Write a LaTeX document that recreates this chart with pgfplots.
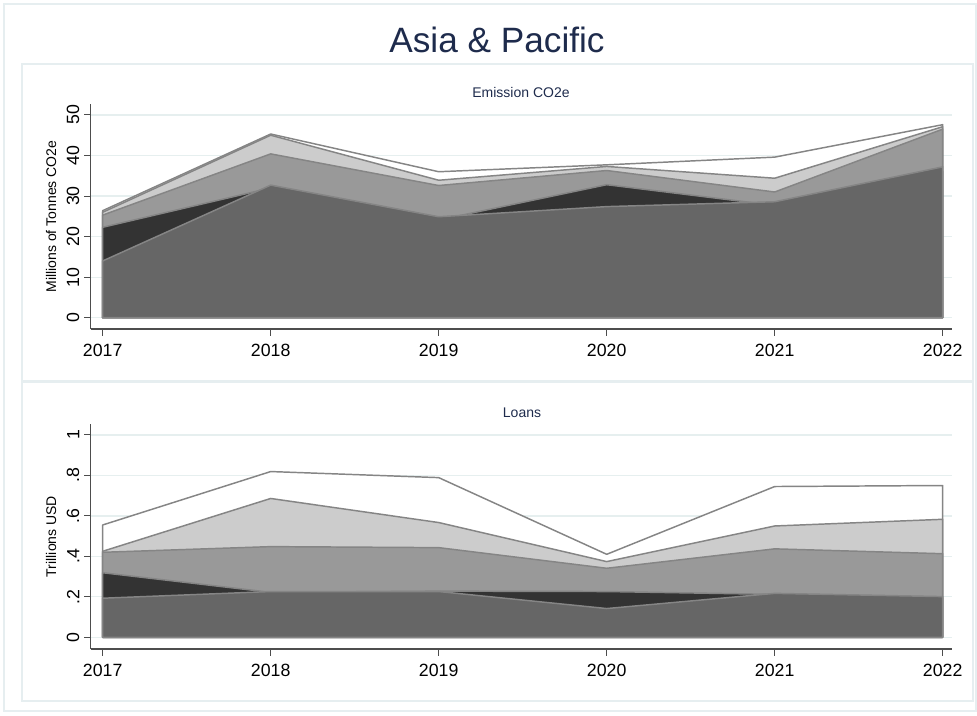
\documentclass[border=0pt]{standalone}
\usepackage{fontspec}
\setmainfont{Liberation Sans}
\usepackage{pgfplots}
\pgfplotsset{compat=1.18}
\definecolor{navy}{HTML}{1E2B4C}
\definecolor{framec}{HTML}{E6EEF0}
\definecolor{gridc}{HTML}{E6EFEF}
\definecolor{outl}{HTML}{858585}
\definecolor{axc}{HTML}{4D4D4D}
\definecolor{layA}{HTML}{FFFFFF}
\definecolor{layB}{HTML}{CCCCCC}
\definecolor{layC}{HTML}{999999}
\definecolor{layD}{HTML}{333333}
\definecolor{layE}{HTML}{666666}
\pgfplotsset{
  panel/.style={
    scale only axis, width=645.98pt, height=168.75pt,
    xmin=2016.9286, xmax=2022.0554,
    axis x line*=bottom, axis y line*=left,
    axis line style={axc, line width=1pt, -},
    tick style={axc, line width=0.8pt},
    tick align=outside, major tick length=5pt,
    xtick={2017,2018,2019,2020,2021,2022},
    xticklabels={2017,2018,2019,2020,2021,2022},
    ymajorgrids, grid style={gridc, line width=1pt},
    ticklabel style={font=\fontsize{13.3}{15}\selectfont},
    xticklabel style={yshift=-3pt},
    yticklabel style={rotate=90, anchor=south},
    ylabel style={at={(axis description cs:-0.0461,0.5)}, anchor=center, font=\fontsize{10.5}{12}\selectfont},
    every axis plot/.append style={draw=outl, line width=1.1pt, line join=round},
  }
}
\begin{document}
\begin{tikzpicture}
\path[use as bounding box] (0,0) rectangle (732.75pt,536.25pt);
\draw[framec, line width=1.2pt] (3pt,533.25pt) rectangle (732pt,3pt);
\draw[framec, line width=1.5pt] (16.5pt,488.25pt) rectangle (729.75pt,250.5pt);
\draw[framec, line width=1.5pt] (16.5pt,249.75pt) rectangle (729.75pt,10.5pt);
\node[navy, font=\fontsize{26.4}{30}\selectfont] at (372.75pt,506.25pt) {Asia \& Pacific};
\node[navy, font=\fontsize{10.5}{12}\selectfont] at (390.75pt,467.25pt) {Emission CO2e};
\node[navy, font=\fontsize{10.5}{12}\selectfont] at (391.5pt,226.5pt) {Loans};

\begin{axis}[panel, at={(68.03pt,289.5pt)}, anchor=south west,
  ymin=-2.78, ymax=52.7,
  ytick={0,10,20,30,40,50}, yticklabels={0,10,20,30,40,50},
  ylabel={Millions of Tonnes CO2e}]
\addplot[fill=layA] coordinates {(2017,0) (2017,26.4) (2018,45.3) (2019,36.0) (2020,37.7) (2021,39.6) (2022,47.6) (2022,0)} -- cycle;
\addplot[fill=layB] coordinates {(2017,0) (2017,26.0) (2018,45.0) (2019,33.9) (2020,37.3) (2021,34.4) (2022,47.1) (2022,0)} -- cycle;
\addplot[fill=layC] coordinates {(2017,0) (2017,25.3) (2018,40.4) (2019,32.6) (2020,36.3) (2021,31.0) (2022,46.5) (2022,0)} -- cycle;
\addplot[fill=layD] coordinates {(2017,0) (2017,22.3) (2018,32.0) (2019,24.1) (2020,32.8) (2021,27.7) (2022,36.0) (2022,0)} -- cycle;
\addplot[fill=layE] coordinates {(2017,0) (2017,14.0) (2018,32.7) (2019,24.9) (2020,27.4) (2021,28.6) (2022,37.2) (2022,0)} -- cycle;
\end{axis}

\begin{axis}[panel, at={(68.03pt,49.5pt)}, anchor=south west,
  ymin=-0.058, ymax=1.054,
  ytick={0,0.2,0.4,0.6,0.8,1}, yticklabels={0,.2,.4,.6,.8,1},
  ylabel={Trillions USD}]
\addplot[fill=layA] coordinates {(2017,0) (2017,0.555) (2018,0.819) (2019,0.789) (2020,0.410) (2021,0.745) (2022,0.750) (2022,0)} -- cycle;
\addplot[fill=layB] coordinates {(2017,0) (2017,0.425) (2018,0.686) (2019,0.567) (2020,0.374) (2021,0.550) (2022,0.583) (2022,0)} -- cycle;
\addplot[fill=layC] coordinates {(2017,0) (2017,0.420) (2018,0.448) (2019,0.443) (2020,0.341) (2021,0.437) (2022,0.413) (2022,0)} -- cycle;
\addplot[fill=layD] coordinates {(2017,0) (2017,0.319) (2018,0.222) (2019,0.228) (2020,0.226) (2021,0.212) (2022,0.195) (2022,0)} -- cycle;
\addplot[fill=layE] coordinates {(2017,0) (2017,0.193) (2018,0.226) (2019,0.226) (2020,0.142) (2021,0.217) (2022,0.201) (2022,0)} -- cycle;
\end{axis}
\end{tikzpicture}
\end{document}
